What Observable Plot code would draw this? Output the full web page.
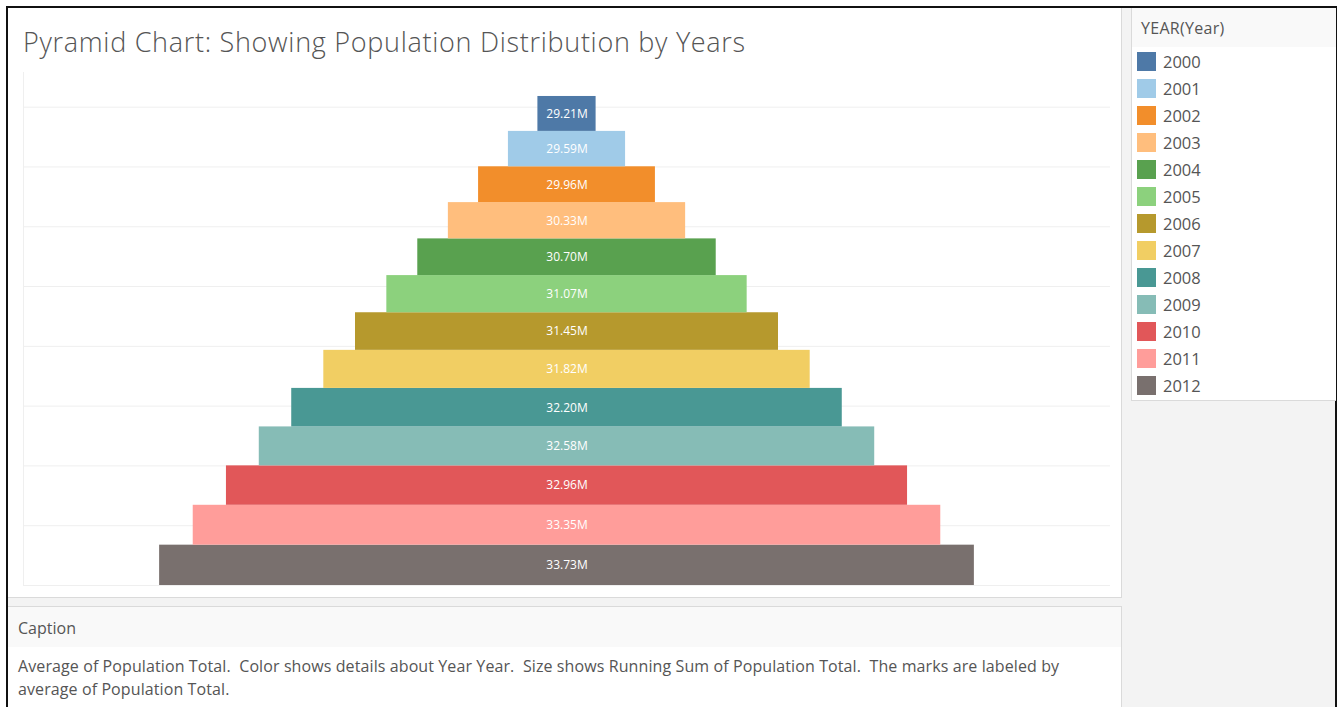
<!DOCTYPE html>
<html><head><meta charset="utf-8">
<script src="https://cdn.jsdelivr.net/npm/d3@7"></script>
<script src="https://cdn.jsdelivr.net/npm/@observablehq/plot@0.6"></script>
<style>
body{margin:0;width:1340px;height:707px;background:#fff;position:relative;overflow:hidden;font-family:"Open Sans",Lato,sans-serif;color:#555}
#outer{position:absolute;left:6px;top:6px;width:1327px;height:720px;border:2px solid #111;background:#f3f3f3}
#main{position:absolute;left:8px;top:8px;width:1113px;height:589px;background:#fff;border-right:1px solid #dadada;border-bottom:1px solid #dadada}
#title{position:absolute;left:15px;top:15px;font-size:27px;font-weight:300;letter-spacing:0.7px;color:#555;white-space:nowrap}
#chart{position:absolute;left:0;top:52px}
#caption{position:absolute;left:8px;top:606px;width:1113px;height:110px;background:#fff;border-top:1px solid #dadada;border-right:1px solid #dadada}
#caphead{height:40px;background:#f9f9f9;font-size:16px;line-height:42px;padding-left:10px}
#captext{font-size:16px;line-height:23px;padding-left:10px;padding-top:8px;white-space:pre;letter-spacing:0.1px}
#legend{position:absolute;left:1131px;top:8px;width:204px;height:392px;background:#fff;border-left:1px solid #dadada;border-bottom:1px solid #dadada}
#leghead{height:39px;background:#f9f9f9;font-size:16px;line-height:40px;padding-left:9px;letter-spacing:0.3px}
.item{position:absolute;left:5px;height:19px;font-size:16.5px;line-height:19px}
.sw{position:absolute;left:0;top:0;width:19px;height:19px}
.lab{position:absolute;left:26px;top:0;white-space:nowrap}
</style></head><body>
<div id="outer"></div>
<div id="main"><div id="title">Pyramid Chart: Showing Population Distribution by Years</div><div id="chart"></div></div>
<div id="caption"><div id="caphead">Caption</div><div id="captext">Average of Population Total.  Color shows details about Year Year.  Size shows Running Sum of Population Total.  The marks are labeled by
average of Population Total.</div></div>
<div id="legend"><div id="leghead">YEAR(Year)</div></div>
<script>
const years = [2000,2001,2002,2003,2004,2005,2006,2007,2008,2009,2010,2011,2012];
const population = [29.21,29.59,29.96,30.33,30.70,31.07,31.45,31.82,32.20,32.58,32.96,33.35,33.73]; // millions
const colors = ["#4e79a7","#a0cbe8","#f28e2b","#ffbe7d","#59a14f","#8cd17d","#b6992d","#f1ce63","#499894","#86bcb6","#e15759","#ff9d9a","#79706e"];
const gridTicks = [0,50,100,150,200,250,300,350,400];

// running sum (size) and stacked vertical position (2012 at bottom)
const running = d3.cumsum(population);
const rows = years.map((y,i)=>({year:y, value:population[i], run:running[i]}));
const stackOrder = rows.slice().reverse();
const stackTop = d3.cumsum(stackOrder, d=>d.value);
stackOrder.forEach((d,i)=>{ d.y2 = stackTop[i]; d.y1 = stackTop[i]-d.value; d.ym=(d.y1+d.y2)/2; d.x1=-d.run/2; d.x2=d.run/2; });

const chart = Plot.plot({
  width: 1112, height: 537,
  marginLeft: 15, marginRight: 10, marginTop: 12, marginBottom: 12,
  x: {domain:[-272.8,272.8], axis:null},
  y: {domain:[0,429], axis:null},
  color: {domain: years, range: colors},
  marks: [
    Plot.ruleY(gridTicks, {stroke:"#efefef", strokeWidth:1}),
    Plot.ruleX([-272.8], {stroke:"#efefef", strokeWidth:1}),
    Plot.rect(stackOrder, {x1:"x1", x2:"x2", y1:"y1", y2:"y2", fill:"year"}),
    Plot.text(stackOrder, {x:0, y:"ym", text:d=>d.value.toFixed(2)+"M", fill:"#fff", fontSize:12, fontFamily:"'Open Sans', Lato, sans-serif"})
  ],
  style:{background:"transparent", overflow:"visible"}
});
document.getElementById("chart").appendChild(chart);

const leg = document.getElementById("legend");
years.forEach((y,i)=>{
  const it = document.createElement("div");
  it.className="item"; it.style.top = (44 + i*27) + "px";
  it.innerHTML = `<div class="sw" style="background:${colors[i]}"></div><div class="lab">${y}</div>`;
  leg.appendChild(it);
});
</script>
</body></html>
